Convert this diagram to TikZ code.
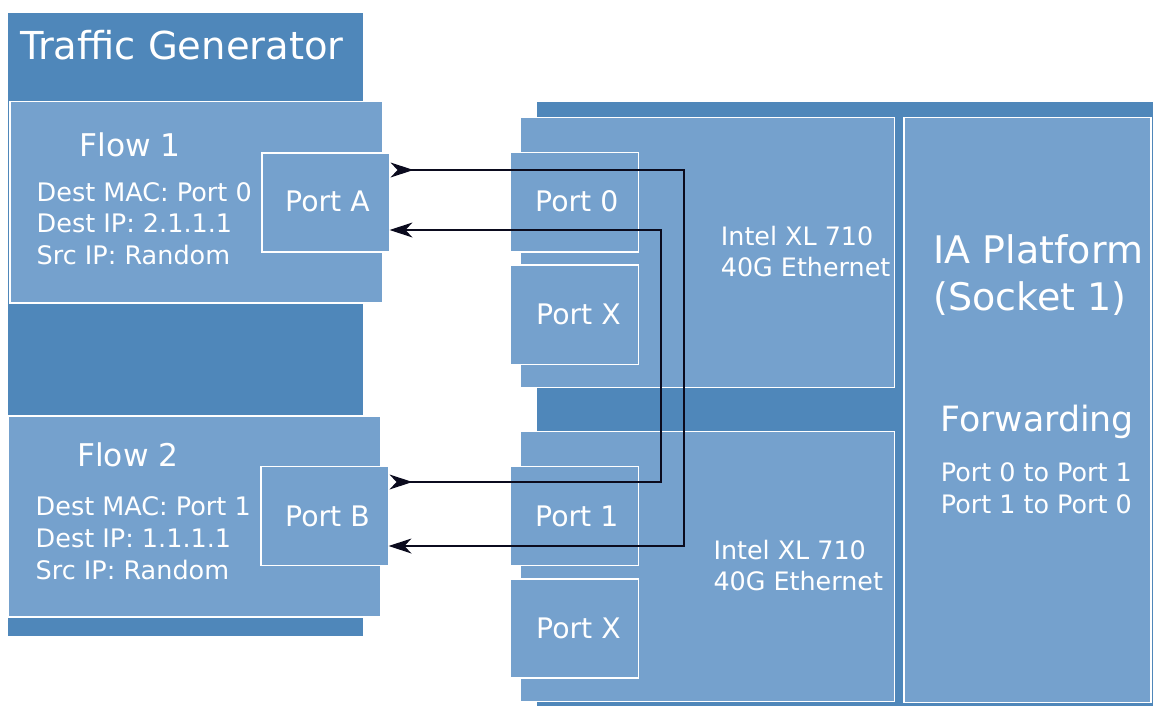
\documentclass[tikz,border=0pt]{standalone}
\usepackage{fontspec}
\setmainfont{DejaVu Sans}
\definecolor{darkblue}{HTML}{4F87BA}
\definecolor{lightblue}{HTML}{75A1CD}
\definecolor{wire}{HTML}{0B0B1E}
\tikzset{
  darkbox/.style={fill=darkblue, draw=none, inner sep=0pt, anchor=north west},
  lightbox/.style={fill=lightblue, draw=white, line width=1.5pt, inner sep=0pt, anchor=north west},
  txt/.style={text=white, inner sep=0pt, anchor=base west},
  conn/.style={draw=wire, line width=2pt, shorten <=20pt, shorten >=14pt},
  head/.style={fill=wire, draw=none},
}
\newcommand{\fs}[1]{\fontsize{#1}{#1}\selectfont}
\begin{document}
\begin{tikzpicture}[x=1pt,y=-1pt]
\useasboundingbox (0,0) rectangle (1153,706);
% Traffic generator
\node[darkbox, minimum width=355pt, minimum height=622pt] (tg) at (7.3,13.3) {};
\node[txt] (tgt) at (20,60) {\fs{38.5}Traffic Generator};
\node[lightbox, minimum width=373pt, minimum height=201pt] (flow1) at (9,101) {};
\node[lightbox, minimum width=373pt, minimum height=201pt] (flow2) at (7.3,415) {};
\node[lightbox, minimum width=128pt, minimum height=99pt] (portA) at (261,152.3) {};
\node[lightbox, minimum width=128pt, minimum height=99pt] (portB) at (260,465.7) {};
\node[txt] (f1t) at (79.3,156) {\fs{31.3}Flow 1};
\node[txt] (f1a) at (36.5,201) {\fs{25.5}Dest MAC: Port 0};
\node[txt] (f1b) at (36.5,232.5) {\fs{25.5}Dest IP: 2.1.1.1};
\node[txt] (f1c) at (36.5,264) {\fs{25.5}Src IP: Random};
\node[txt] (pAt) at (285,211.7) {\fs{28.3}Port A};
\node[txt] (f2t) at (77,466.7) {\fs{31.3}Flow 2};
\node[txt] (f2a) at (35.5,515) {\fs{25.5}Dest MAC: Port 1};
\node[txt] (f2b) at (35.5,547) {\fs{25.5}Dest IP: 1.1.1.1};
\node[txt] (f2c) at (35.5,579) {\fs{25.5}Src IP: Random};
\node[txt] (pBt) at (285,526) {\fs{28.3}Port B};
% Right side
\node[darkbox, minimum width=617pt, minimum height=605pt] (plat) at (536.7,101.5) {};
\node[lightbox, minimum width=374pt, minimum height=270pt] (nic1) at (519.6,116.7) {};
\node[lightbox, minimum width=374pt, minimum height=270pt] (nic2) at (519.6,430.7) {};
\node[lightbox, minimum width=247pt, minimum height=585pt] (ia) at (903.3,116.7) {};
\node[lightbox, minimum width=128pt, minimum height=99.5pt] (port0) at (509.5,151.7) {};
\node[lightbox, minimum width=128pt, minimum height=99.5pt] (portX1) at (509.5,264) {};
\node[lightbox, minimum width=128pt, minimum height=99pt] (port1) at (509.5,465.7) {};
\node[lightbox, minimum width=128pt, minimum height=99pt] (portX2) at (509.5,578.3) {};
\node[txt] (p0t) at (535,211.7) {\fs{28.3}Port 0};
\node[txt] (pX1t) at (536,324) {\fs{28.3}Port X};
\node[txt] (p1t) at (535,526) {\fs{28.3}Port 1};
\node[txt] (pX2t) at (536,638) {\fs{28.3}Port X};
\node[txt] (n1a) at (720.7,245) {\fs{25.4}Intel XL 710};
\node[txt] (n1b) at (720.7,276.5) {\fs{25.4}40G Ethernet};
\node[txt] (n2a) at (713.3,559) {\fs{25.4}Intel XL 710};
\node[txt] (n2b) at (713.3,590.5) {\fs{25.4}40G Ethernet};
\node[txt] (iaa) at (933.3,263.3) {\fs{38}IA Platform};
\node[txt] (iab) at (933.3,310.5) {\fs{38}(Socket 1)};
\node[txt] (fw) at (940,431.7) {\fs{34.8}Forwarding};
\node[txt] (fwa) at (940.7,481.7) {\fs{25.4}Port 0 to Port 1};
\node[txt] (fwb) at (940.7,513.3) {\fs{25.4}Port 1 to Port 0};
% connectors
\coordinate (r1t) at (684,170);
\coordinate (r1b) at (684,546);
\coordinate (r2b) at (661,482);
\coordinate (r2t) at (661,230);
\draw[conn] (portA.east |- r1t) -- (r1t) -- (r1b) -- (portB.east |- r1b);
\draw[conn] (portB.east |- r2b) -- (r2b) -- (r2t) -- (portA.east |- r2t);
% arrowheads: start ones point away from the port, end ones into the port
\fill[head] (portA.east |- r1t) ++(23,0) -- ++(-23,-7.5) -- ++(7,7.5) -- ++(-7,7.5) -- cycle;
\fill[head] (portB.east |- r2b) ++(23,0) -- ++(-23,-7.5) -- ++(7,7.5) -- ++(-7,7.5) -- cycle;
\fill[head] (portB.east |- r1b) ++(-1,0) -- ++(23,-7.5) -- ++(-7,7.5) -- ++(7,7.5) -- cycle;
\fill[head] (portA.east |- r2t) ++(-1,0) -- ++(23,-7.5) -- ++(-7,7.5) -- ++(7,7.5) -- cycle;
\end{tikzpicture}
\end{document}
